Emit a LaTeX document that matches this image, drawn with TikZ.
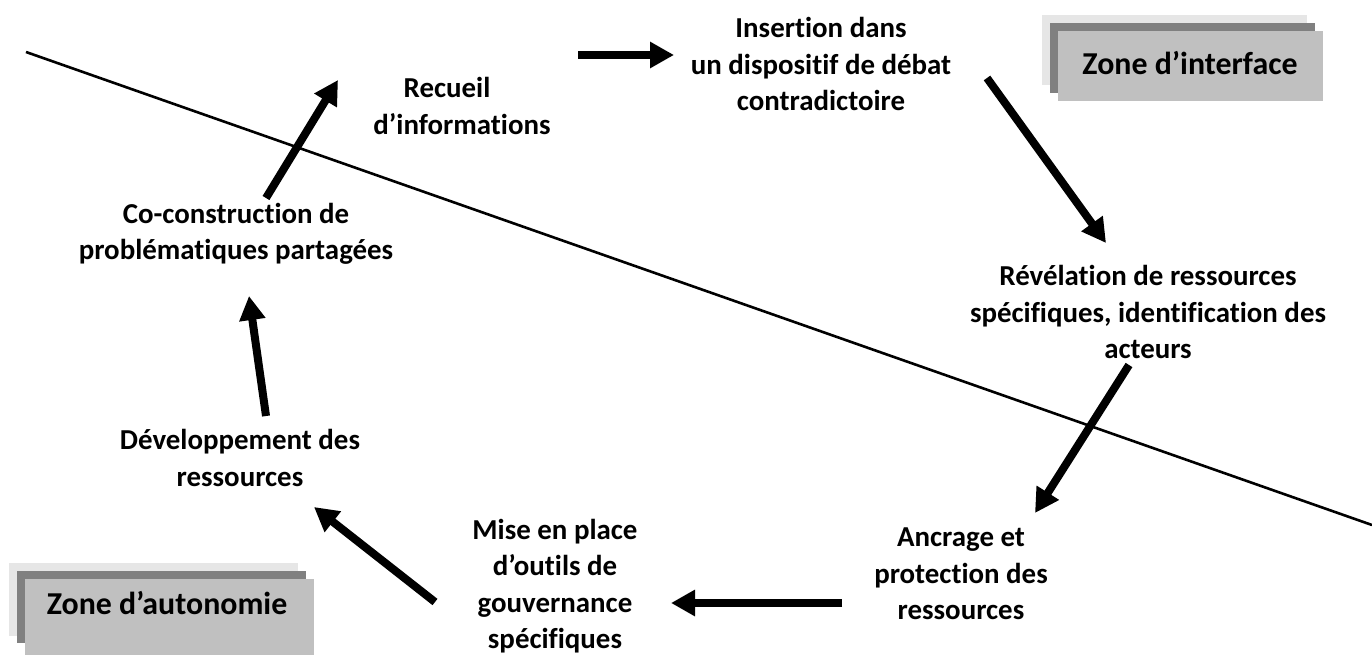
\documentclass[tikz,border=0pt]{standalone}
\usepackage{fontspec}
\setmainfont{Carlito}[Ligatures={NoCommon,NoRequired,NoContextual,NoRare},Contextuals=NoAlternate]
\usetikzlibrary{arrows.meta}
\definecolor{boxback}{HTML}{E6E6E6}
\definecolor{boxmid}{HTML}{808080}
\definecolor{boxfront}{HTML}{C0C0C0}
\tikzset{
  lbl/.style={font=\fontsize{29}{36.5}\selectfont\bfseries, align=center, inner sep=0pt},
  zonelbl/.style={font=\fontsize{32}{38}\selectfont\bfseries, inner sep=0pt},
  bigarrow/.style={line width=8bp, -{Triangle[width=25bp,length=24bp]}},
  divider/.style={line width=2.6bp, black},
}
\begin{document}
\begin{tikzpicture}[x=1bp,y=-1bp]
\useasboundingbox (0,0) rectangle (1372,655);
% divider line
\coordinate (l1) at (26,52);
\coordinate (l2) at (1372,525);
\draw[divider] (l1) -- (l2);
% zone boxes
\fill[boxback] (1042,15) rectangle (1307,85);
\fill[boxmid] (1050,23) rectangle (1315,93);
\fill[boxfront] (1058,31) rectangle (1323,101);
\node[zonelbl] (zi) at (1190,63) {Zone d’interface};
\fill[boxback] (9,563) rectangle (298,636);
\fill[boxmid] (17,571) rectangle (306,643);
\fill[boxfront] (25,579) rectangle (314,655);
\node[zonelbl] (za) at (167,603) {Zone d’autonomie};
% text nodes
\node[lbl] (rec) at (462,106) {Recueil\hspace*{30bp}\\d’informations};
\node[lbl] (ins) at (821,64) {Insertion dans\\un dispositif de débat\\contradictoire};
\node[lbl] (rev) at (1148,312) {Révélation de ressources\\spécifiques, identification des\\acteurs};
\node[lbl] (anc) at (961,574) {Ancrage et\\protection des\\ressources};
\node[lbl] (mis) at (555,586) {Mise en place\\d’outils de\\gouvernance\\spécifiques};
\node[lbl] (dev) at (240,458) {Développement des\\ressources};
\node[lbl] (coc) at (236,234) {Co-construction de\\problématiques partagées};
% arrow endpoints
\coordinate (a1s) at (578,55); \coordinate (a1e) at (674,55);
\coordinate (a2s) at (987,78); \coordinate (a2e) at (1106,243);
\coordinate (a3s) at (1129,365); \coordinate (a3e) at (1035,513);
\coordinate (a4s) at (842,603); \coordinate (a4e) at (671,603);
\coordinate (a5s) at (435,602); \coordinate (a5e) at (314,507);
\coordinate (a6s) at (266,416); \coordinate (a6e) at (249,296);
\coordinate (a7s) at (266,198); \coordinate (a7e) at (338,80);
\draw[bigarrow] (a1s) -- (a1e);
\draw[bigarrow] (a2s) -- (a2e);
\draw[bigarrow] (a3s) -- (a3e);
\draw[bigarrow] (a4s) -- (a4e);
\draw[bigarrow] (a5s) -- (a5e);
\draw[bigarrow] (a6s) -- (a6e);
\draw[bigarrow] (a7s) -- (a7e);
\end{tikzpicture}
\end{document}
